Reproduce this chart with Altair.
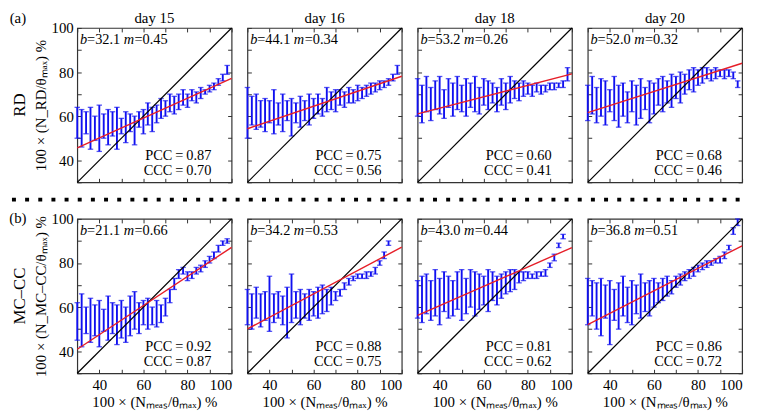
import altair as alt
import pandas as pd

# ---------------- data ----------------
X = [30, 32, 34, 36, 38, 40, 42, 44, 46, 48, 50, 52, 54, 56, 58, 60, 62, 64,
     66, 68, 70, 72, 74, 76, 78, 80, 82, 84, 86, 88, 90, 92, 94, 96, 98]

RD15_LO = [50, 46, 52, 45, 49, 44, 50, 47, 51, 45, 52, 48, 53, 47, 55, 52, 56, 53,
           57, 59, 60, 62, 61, 63, 65, 64, 67, 66, 68, 70, 71, 72, 74, 76, 79]
RD15_HI = [64, 63, 62, 64, 60, 65, 61, 63, 62, 64, 59, 62, 61, 60, 62, 63, 66, 64,
           65, 68, 67, 70, 69, 70, 72, 70, 72, 71, 73, 72, 74, 75, 77, 79, 83]

RD16_LO = [50, 56, 54, 55, 53, 57, 52, 56, 53, 58, 51, 57, 55, 58, 56, 59, 61, 60,
           62, 63, 62, 65, 64, 66, 66, 67, 68, 69, 70, 71, 72, 73, 74, 76, 79]
RD16_HI = [73, 69, 70, 67, 68, 67, 72, 66, 70, 67, 68, 66, 69, 67, 70, 68, 70, 68,
           73, 71, 72, 72, 71, 73, 72, 74, 73, 74, 75, 75, 76, 76, 77, 79, 83]

RD18_LO = [60, 57, 62, 58, 63, 61, 59, 64, 60, 63, 62, 60, 64, 62, 61, 65, 63, 66,
           62, 65, 63, 66, 68, 67, 69, 70, 69, 71, 70, 71, 72, 72, 73, 73, 76]
RD18_HI = [77, 74, 78, 73, 76, 78, 72, 77, 75, 78, 74, 77, 75, 78, 73, 77, 76, 75,
           73, 77, 75, 78, 76, 75, 76, 75, 74, 75, 74, 74, 75, 75, 75, 76, 82]

RD20_LO = [58, 61, 57, 60, 56, 62, 58, 55, 60, 57, 62, 56, 59, 63, 57, 61, 65, 62,
           66, 64, 68, 66, 70, 72, 71, 74, 75, 77, 76, 77, 78, 77, 78, 77, 73]
RD20_HI = [74, 78, 73, 77, 76, 72, 78, 74, 75, 71, 76, 74, 77, 73, 76, 75, 77, 78,
           76, 79, 78, 80, 79, 81, 82, 81, 82, 82, 81, 82, 81, 81, 81, 80, 76]

MC15_LO = [45, 42, 48, 44, 47, 42, 49, 45, 48, 43, 46, 44, 47, 50, 48, 52, 50, 52,
           51, 53, 56, 62, 68, 73, 75, 72, 73, 75, 76, 78, 80, 82, 85, 88, 89]
MC15_HI = [62, 66, 60, 64, 61, 63, 59, 65, 62, 61, 63, 60, 65, 67, 62, 63, 64, 60,
           63, 61, 64, 68, 73, 77, 78, 76, 76, 78, 79, 81, 83, 85, 88, 90, 91]

MC16_LO = [52, 50, 55, 51, 54, 49, 53, 55, 52, 46, 53, 55, 52, 55, 54, 56, 55, 57,
           58, 61, 63, 65, 68, 70, 72, 73, 73, 73, 74, 75, 79, 82, 88, None, None]
MC16_HI = [68, 66, 69, 66, 67, 74, 66, 67, 65, 69, 75, 67, 68, 66, 68, 67, 69, 70,
           68, 69, 67, 68, 71, 73, 74, 75, 75, 76, 76, 78, 81, 85, 90, None, None]

MC18_LO = [55, 53, 57, 54, 56, 52, 58, 55, 56, 59, 54, 57, 60, 56, 59, 61, 58, 63,
           61, 64, 66, 67, 68, 71, 72, 73, 73, 73, 74, 74, 78, 81, 87, 91, None]
MC18_HI = [72, 74, 75, 72, 77, 73, 76, 74, 72, 76, 77, 73, 77, 76, 75, 74, 77, 76,
           74, 75, 76, 77, 77, 76, 76, 76, 75, 76, 76, 77, 80, 84, 89, 93, None]

MC20_LO = [52, 56, 50, 47, 55, 43, 54, 50, 56, 53, 52, 57, 55, 58, 56, 60, 62, 63,
           65, 66, 69, 70, 72, 73, 74, 76, 77, 78, 79, 80, 80, 82, 86, 93, 97]
MC20_HI = [73, 72, 71, 73, 70, 72, 68, 71, 74, 69, 72, 70, 75, 71, 72, 73, 71, 73,
           74, 72, 74, 75, 76, 77, 78, 79, 80, 81, 81, 82, 83, 85, 88, 96, 100]

DAYS = ["day 15", "day 16", "day 18", "day 20"]
ROW_NAMES = ["RD", "MC\u2013CC"]
ROW_TAGS = ["(a)", "(b)"]
Y_TITLES = ["100 \u00d7 (N_RD/\u03b8\u2098\u2090\u2093) %",
            "100 \u00d7 (N_MC\u2013CC/\u03b8\u2098\u2090\u2093) %"]
X_TITLE = "100 \u00d7 (N\u2098\u2091\u2090\u209b/\u03b8\u2098\u2090\u2093) %"

LOS = [[RD15_LO, RD16_LO, RD18_LO, RD20_LO], [MC15_LO, MC16_LO, MC18_LO, MC20_LO]]
HIS = [[RD15_HI, RD16_HI, RD18_HI, RD20_HI], [MC15_HI, MC16_HI, MC18_HI, MC20_HI]]
B_VALS = [[32.1, 44.1, 53.2, 52.0], [21.1, 34.2, 43.0, 36.8]]
M_VALS = [[0.45, 0.34, 0.26, 0.32], [0.66, 0.53, 0.44, 0.51]]
PCC_VALS = [[0.87, 0.75, 0.60, 0.68], [0.92, 0.88, 0.81, 0.86]]
CCC_VALS = [[0.70, 0.56, 0.41, 0.46], [0.87, 0.75, 0.62, 0.72]]

DOMAIN = [30, 100]
TICKS = [30, 40, 50, 60, 70, 80, 90, 100]
DIAG = [30, 100]
FIT_X = [30, 100]

# ---------------- style ----------------
FONT = "Liberation Serif"
BLUE = "#1010f0"
RED = "#e61e28"
W, H = 156, 156
FS = 14.5
COL_GAP, ROW_GAP = 16, 37


def sx(v):
    return (v - DOMAIN[0]) / (DOMAIN[1] - DOMAIN[0]) * W


def sy(v):
    return H - (v - DOMAIN[0]) / (DOMAIN[1] - DOMAIN[0]) * H


LABEL_EXPR = "datum.value % 20 === 0 ? datum.label : ''"
ONE = pd.DataFrame({"k": [0]})


def txt(s, px, py, **kw):
    opts = dict(font=FONT, fontSize=FS, color="black", baseline="middle", align="left")
    opts.update(kw)
    return alt.Chart(ONE).mark_text(**opts).encode(
        x=alt.value(px), y=alt.value(py), text=alt.value(s))


def panel(r, c):
    df = pd.DataFrame({"x": X, "lo": LOS[r][c], "hi": HIS[r][c]}).dropna()
    xs = alt.Scale(domain=DOMAIN, nice=False, zero=False)
    ys = alt.Scale(domain=DOMAIN, nice=False, zero=False)

    common = dict(values=TICKS, offset=-4, tickSize=4, domain=False, grid=False,
                  minExtent=0)
    x_axis = alt.Axis(labelExpr=LABEL_EXPR, labels=(r == 1),
                      title=(X_TITLE if r == 1 else ""), labelPadding=4, titlePadding=3,
                      **common)
    y_axis = alt.Axis(labelExpr=LABEL_EXPR, labels=(c == 0),
                      title=(Y_TITLES[r] if c == 0 else ""), labelPadding=4, titlePadding=3,
                      **common)
    top_axis = alt.Axis(orient="top", labels=False, title="", maxExtent=0, **common)
    right_axis = alt.Axis(orient="right", labels=False, title="", maxExtent=0, **common)

    base = alt.Chart(df)
    rules = base.mark_rule(color=BLUE, strokeWidth=1.9).encode(
        x=alt.X("x:Q", scale=xs, axis=x_axis),
        y=alt.Y("lo:Q", scale=ys, axis=y_axis),
        y2="hi:Q")
    cap_hi = base.mark_tick(color=BLUE, orient="horizontal", size=5.5, thickness=1.3).encode(
        x=alt.X("x:Q", scale=xs, axis=None), y=alt.Y("hi:Q", scale=ys, axis=None))
    cap_lo = base.mark_tick(color=BLUE, orient="horizontal", size=5.5, thickness=1.3).encode(
        x=alt.X("x:Q", scale=xs, axis=None), y=alt.Y("lo:Q", scale=ys, axis=None))

    diag = alt.Chart(pd.DataFrame({"x": DIAG, "y": DIAG})).mark_line(
        color="black", strokeWidth=1.2).encode(
        x=alt.X("x:Q", scale=xs, axis=top_axis),
        y=alt.Y("y:Q", scale=ys, axis=right_axis))

    b, m = B_VALS[r][c], M_VALS[r][c]
    fit_df = pd.DataFrame({"x": FIT_X, "y": [b + m * v for v in FIT_X]})
    fit = alt.Chart(fit_df).mark_line(color=RED, strokeWidth=1.4).encode(
        x=alt.X("x:Q", scale=xs, axis=None), y=alt.Y("y:Q", scale=ys, axis=None))

    tx, ty = sx(31.3), sy(94.7)
    texts = [
        txt("b", tx, ty, fontStyle="italic"),
        txt(f"={b:.1f}", tx + 7, ty),
        txt("m", tx + 44, ty, fontStyle="italic"),
        txt(f"={m:.2f}", tx + 55, ty),
        txt(f"PCC\u2009=\u2009{PCC_VALS[r][c]:.2f}", sx(90.8), sy(41.8), align="right"),
        txt(f"CCC\u2009=\u2009{CCC_VALS[r][c]:.2f}", sx(90.8), sy(35.2), align="right"),
    ]
    if r == 0:
        texts.append(txt(DAYS[c], W / 2, -10, align="center", fontSize=15))
    if c == 0:
        texts.append(txt(ROW_TAGS[r], -60, -10 if r == 0 else -1, align="center", fontSize=15))
        texts.append(txt(ROW_NAMES[r], -58, H / 2, align="center", fontSize=17, angle=270))
        if r == 0:
            sep = alt.Chart(ONE).mark_rule(color="black", strokeWidth=4, strokeDash=[4, 9.3]).encode(
                x=alt.value(-66), x2=alt.value(4 * W + 3 * COL_GAP + 6),
                y=alt.value(H + ROW_GAP / 2 - 1))
            texts.append(sep)

    return alt.layer(rules, cap_hi, cap_lo, diag, fit, *texts).resolve_axis(
        x="independent", y="independent").properties(width=W, height=H)


panels = [panel(r, c) for r in range(2) for c in range(4)]

chart = alt.concat(
    *panels, columns=4, bounds="flush",
    spacing=alt.RowColnumber(row=ROW_GAP, column=COL_GAP)
).configure(
    padding=0
).configure_view(
    stroke="#333333", strokeWidth=1.2
).configure_axis(
    labelFont=FONT, labelFontSize=15, labelColor="black", tickColor="#333333",
    titleFont=FONT, titleFontSize=15, titleFontWeight="normal", titleColor="black"
)

chart.save("out.html", embed_options={"renderer": "svg", "actions": False})
